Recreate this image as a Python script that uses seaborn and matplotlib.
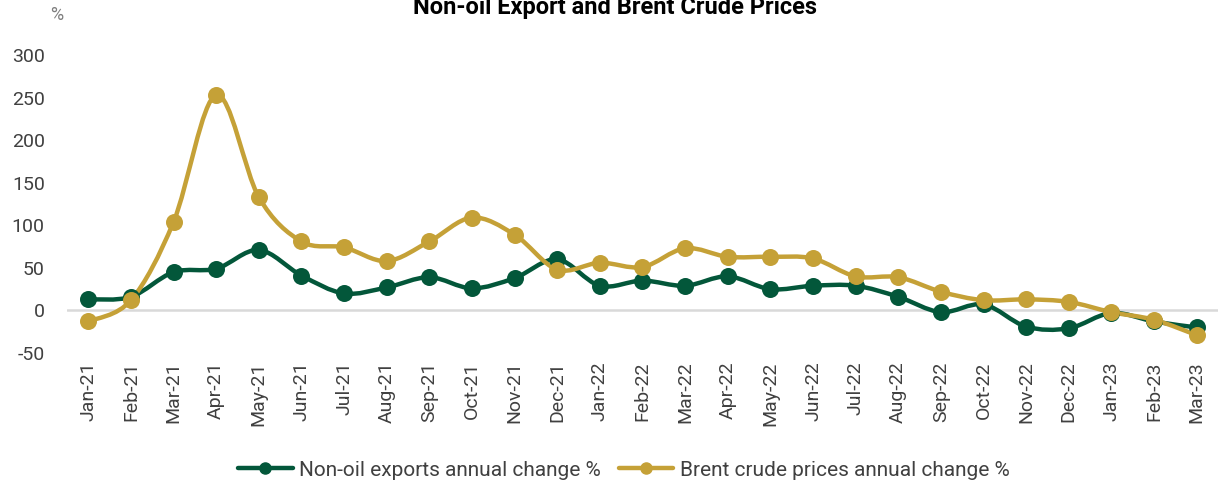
import matplotlib
matplotlib.use("Agg")
import matplotlib.pyplot as plt
from matplotlib.path import Path
from matplotlib.patches import PathPatch
from matplotlib.lines import Line2D
import seaborn as sns
import numpy as np
import pandas as pd

# ==============================
# DATA
# ==============================
months = ["Jan-21", "Feb-21", "Mar-21", "Apr-21", "May-21", "Jun-21", "Jul-21", "Aug-21",
          "Sep-21", "Oct-21", "Nov-21", "Dec-21", "Jan-22", "Feb-22", "Mar-22", "Apr-22",
          "May-22", "Jun-22", "Jul-22", "Aug-22", "Sep-22", "Oct-22", "Nov-22", "Dec-22",
          "Jan-23", "Feb-23", "Mar-23"]
non_oil = [13, 16, 45, 49, 71, 41, 20, 27, 39, 26, 38, 60, 29, 35, 29, 40,
           25, 29, 29, 16, -2, 7, -19, -21, -3, -13, -20]
brent = [-13, 12, 104, 253, 133, 81, 74, 58, 81, 109, 89, 48, 56, 51, 73, 63,
         63, 61, 40, 39, 22, 12, 13, 10, -2, -11, -29]
series_names = ["Non-oil exports annual change %", "Brent crude prices annual change %"]
y_ticks = [-50, 0, 50, 100, 150, 200, 250, 300]

GREEN = "#03573A"
GOLD = "#C5A137"
TXT = "#404040"

df = pd.DataFrame({"month": months * 2,
                   "pos": list(range(len(months))) * 2,
                   "value": non_oil + brent,
                   "series": [series_names[0]] * len(months) + [series_names[1]] * len(months)})

sns.set_style("white")
plt.rcParams["font.family"] = ["Roboto", "DejaVu Sans"]

fig = plt.figure(figsize=(12.21, 4.86), dpi=100)
ax = fig.add_axes([67 / 1221, 1 - 353 / 486, 1151 / 1221, 298 / 486])


def smooth_path(xs, ys):
    # Excel-style smoothed line (bezier through the points)
    pts = np.column_stack([xs, ys]).astype(float)
    verts = [pts[0]]
    codes = [Path.MOVETO]
    n = len(pts)
    for i in range(n - 1):
        p0 = pts[i - 1] if i > 0 else pts[i]
        p1 = pts[i]
        p2 = pts[i + 1]
        p3 = pts[i + 2] if i + 2 < n else pts[i + 1]
        c1 = p1 + (p2 - p0) / 6
        c2 = p2 - (p3 - p1) / 6
        verts += [c1, c2, p2]
        codes += [Path.CURVE4] * 3
    return Path(verts, codes)


ax.axhline(0, color="#D9D9D9", lw=1.8, zorder=1)

for name, col in zip(series_names, [GREEN, GOLD]):
    sub = df[df["series"] == name]
    ax.add_patch(PathPatch(smooth_path(sub["pos"], sub["value"]), facecolor="none",
                           edgecolor=col, lw=3.2, zorder=2, capstyle="round"))
    sns.scatterplot(data=sub, x="pos", y="value", color=col, s=150, edgecolor=col,
                    linewidth=0, ax=ax, zorder=3, legend=False)

ax.set_xlim(-0.5, len(months) - 0.5)
ax.set_ylim(-50, 300)
ax.set_xticks(range(len(months)))
ax.set_xticklabels(months, rotation=90, fontsize=14, color=TXT)
ax.set_yticks(y_ticks)
ax.set_yticklabels([str(t) for t in y_ticks], fontsize=14, color=TXT)
ax.tick_params(axis="both", length=0, pad=6)
ax.tick_params(axis="y", pad=16)
ax.set_xlabel("")
ax.set_ylabel("")
sns.despine(ax=ax, left=True, bottom=True)

fig.text(57 / 1221, 1 - 15 / 486, "%", fontsize=13, color="#7F7F7F", ha="center", va="center")
fig.text(0.504, 1 - 14 / 486, "Non-oil Export and Brent Crude Prices", fontsize=17,
         fontweight="bold", color="black", ha="center", va="baseline")

handles = [Line2D([0], [0], color=c, lw=3.2, marker="o", markersize=8) for c in [GREEN, GOLD]]
fig.legend(handles, series_names, loc="center", bbox_to_anchor=(0.511, 1 - 470 / 486),
           ncol=2, frameon=False, fontsize=15, handlelength=2.6, columnspacing=0.9,
           handletextpad=0.3, labelcolor=TXT)

fig.savefig("out.png", dpi=100)
